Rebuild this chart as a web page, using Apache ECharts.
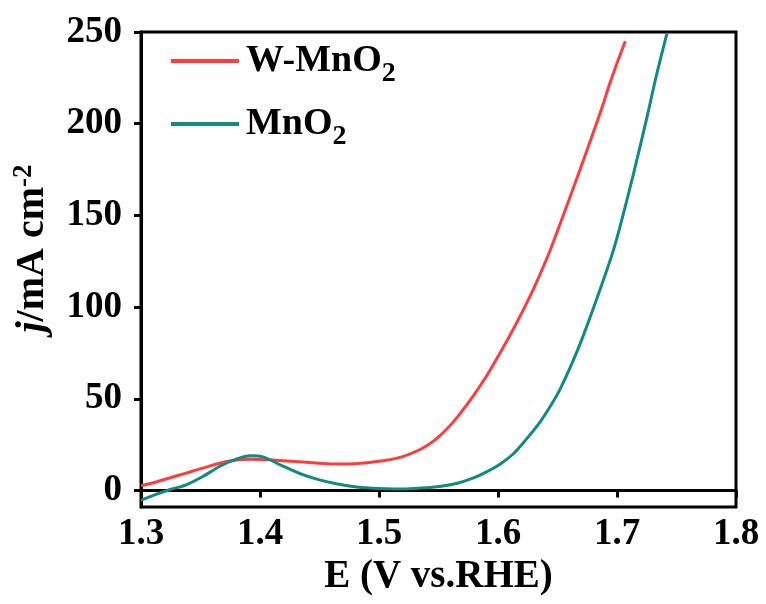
<!DOCTYPE html>
<html><head><meta charset="utf-8">
<script src="https://cdn.jsdelivr.net/npm/echarts@6/dist/echarts.min.js"></script>
<style>html,body{margin:0;padding:0;background:#fff}#c{width:766px;height:604px}</style>
</head><body><div id="c"></div>
<script>
const seriesNames = ['W-MnO2', 'MnO2'];
const wMnO2X = [1.300,1.312,1.324,1.338,1.352,1.372,1.392,1.408,1.436,1.464,1.480,1.492,1.506,1.520,1.535,1.548,1.562,1.577,1.590,1.600,1.610,1.627,1.642,1.652,1.669,1.680,1.687,1.694,1.700,1.707];
const wMnO2Y = [2.6,4.5,6.8,9.5,12.2,15.8,17.1,16.7,15.5,14.5,14.6,15.3,16.5,18.5,22.5,28,37,49.5,62,73,84.5,106,128,145,175,195,208,222,233,245];
const mnO2X = [1.300,1.312,1.324,1.338,1.352,1.366,1.380,1.392,1.403,1.417,1.436,1.450,1.464,1.478,1.492,1.506,1.520,1.535,1.551,1.565,1.579,1.590,1.602,1.612,1.621,1.635,1.645,1.652,1.662,1.672,1.686,1.696,1.703,1.714,1.725,1.733,1.742];
const mnO2Y = [-5.4,-2.3,0.4,3.1,7.6,13.1,17.1,18.9,18.2,14.0,8.6,5.8,3.7,2.2,1.3,0.9,0.8,1.3,2.2,3.8,6.7,10,14.5,19.5,25.8,37,47,55,69,85,110,129,145,173,203,226,249.3];
const yTicks = [0, 50, 100, 150, 200, 250];
const xTicks = [1.3, 1.4, 1.5, 1.6, 1.7, 1.8];

const FONT = "'Liberation Serif','Times New Roman',serif";
const colors = ['#ff3b3b', '#0f8a84'];
const zip = (xs, ys) => xs.map((x, i) => [x, ys[i]]);

const chart = echarts.init(document.getElementById('c'), null, {renderer: 'canvas'});
chart.setOption({
  animation: false,
  backgroundColor: '#fff',
  grid: {left: 141, right: 30, top: 32, bottom: 97, show: true, borderColor: '#000', borderWidth: 3, containLabel: false},
  legend: {
    orient: 'vertical', left: 166, top: 37,
    itemWidth: 68, itemHeight: 4, itemGap: 17, icon: 'rect',
    data: seriesNames,
    formatter: n => '{a|' + n.slice(0, -1) + '}{s|' + n.slice(-1) + '}',
    textStyle: {
      padding: [0, 0, 0, 2],
      rich: {
        a: {fontFamily: FONT, fontWeight: 'bold', fontSize: 38, lineHeight: 44, color: '#000', verticalAlign: 'middle'},
        s: {fontFamily: FONT, fontWeight: 'bold', fontSize: 28, lineHeight: 18, height: 18, color: '#000', verticalAlign: 'bottom'}
      }
    }
  },
  xAxis: {
    type: 'value', min: 1.3, max: 1.8, interval: 0.1,
    name: 'E (V vs.RHE)', nameLocation: 'middle', nameGap: 50,
    nameTextStyle: {fontFamily: FONT, fontWeight: 'bold', fontSize: 39, color: '#000'},
    axisLine: {lineStyle: {color: '#000', width: 3}},
    axisTick: {show: true, length: 7, inside: false, lineStyle: {color: '#000', width: 3}},
    axisLabel: {fontFamily: FONT, fontWeight: 'bold', fontSize: 37, color: '#000', margin: 9,
      customValues: xTicks, formatter: v => v.toFixed(1)},
    splitLine: {show: false}
  },
  yAxis: {
    type: 'value', min: -9, max: 250,
    name: '{i|j}{n|/mA cm}{s|-2}', nameLocation: 'middle', nameGap: 86, nameRotate: 90,
    nameTextStyle: {
      padding: [0, 0, 0, 42],
      rich: {
        i: {fontFamily: FONT, fontWeight: 'bold', fontStyle: 'italic', fontSize: 40, color: '#000', lineHeight: 44, verticalAlign: 'middle'},
        n: {fontFamily: FONT, fontWeight: 'bold', fontSize: 40, color: '#000', lineHeight: 44, verticalAlign: 'middle'},
        s: {fontFamily: FONT, fontWeight: 'bold', fontSize: 27, color: '#000', lineHeight: 24, verticalAlign: 'top'}
      }
    },
    axisLine: {lineStyle: {color: '#000', width: 3}},
    axisTick: {show: true, length: 7, inside: false, customValues: yTicks, lineStyle: {color: '#000', width: 3}},
    axisLabel: {fontFamily: FONT, fontWeight: 'bold', fontSize: 37, color: '#000', margin: 19, customValues: yTicks},
    splitLine: {show: false}
  },
  series: [
    {name: seriesNames[0], type: 'line', data: zip(wMnO2X, wMnO2Y), showSymbol: false, smooth: 0.3,
      lineStyle: {color: colors[0], width: 3}, itemStyle: {color: colors[0]}},
    {name: seriesNames[1], type: 'line', data: zip(mnO2X, mnO2Y), showSymbol: false, smooth: 0.3,
      lineStyle: {color: colors[1], width: 3}, itemStyle: {color: colors[1]}}
  ]
});
</script></body></html>
